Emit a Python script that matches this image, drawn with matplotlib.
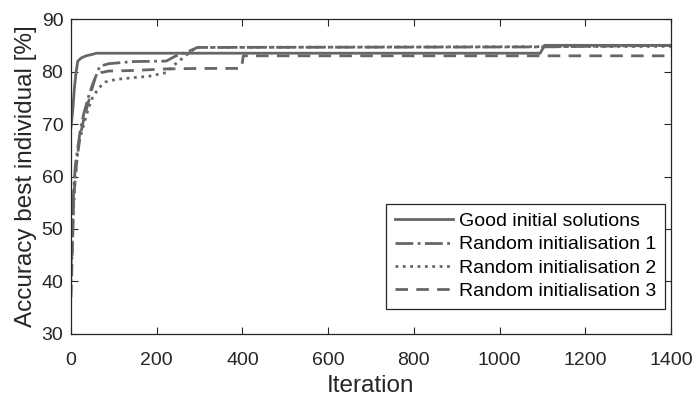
import matplotlib
matplotlib.use("Agg")
import matplotlib.pyplot as plt

# data
good_it = [0, 4, 8, 12, 16, 24, 35, 51, 59, 1095, 1105, 1400]
good_acc = [69.5, 72.5, 76.9, 80.0, 82.0, 82.6, 83.0, 83.3, 83.5, 83.5, 85.0, 85.0]

r1_it = [0, 3, 6, 10, 15, 22, 30, 40, 50, 60, 67, 88, 143, 222, 245, 276, 295, 1100, 1400]
r1_acc = [43, 48, 57, 62, 65, 69, 72, 75, 77.5, 79.5, 81.0, 81.5, 81.9, 82.0, 83.0, 83.9, 84.6, 84.7, 85.0]

r2_it = [0, 3, 6, 10, 15, 20, 30, 41, 50, 65, 80, 104, 140, 182, 222, 237, 261, 292, 1400]
r2_acc = [40, 46, 54, 60, 64, 67, 70, 73.1, 75, 76.9, 78.0, 78.5, 78.8, 79.1, 79.8, 81.0, 82.6, 84.6, 84.8]

r3_it = [0, 3, 6, 10, 15, 22, 30, 40, 50, 57, 70, 88, 143, 220, 300, 398, 402, 1400]
r3_acc = [37, 45, 55, 60, 64, 68, 71, 74, 77, 78.9, 79.8, 80.1, 80.2, 80.5, 80.6, 80.6, 83.0, 83.0]

labels = ["Good initial solutions", "Random initialisation 1",
          "Random initialisation 2", "Random initialisation 3"]

plt.rcParams["font.family"] = ["Liberation Sans", "DejaVu Sans"]

fig = plt.figure(figsize=(6.96, 3.98), dpi=100)
ax = fig.add_axes([0.102, 0.161, 0.862, 0.791])

c = "#666666"
lw = 2.0
ax.plot(good_it, good_acc, "-", color=c, lw=lw, label=labels[0])
ax.plot(r1_it, r1_acc, "-.", color=c, lw=lw, label=labels[1])
ax.plot(r2_it, r2_acc, ":", color=c, lw=lw, label=labels[2])
ax.plot(r3_it, r3_acc, "--", color=c, lw=lw, dashes=(4.5, 3), label=labels[3])

ax.set_xlim(0, 1400)
ax.set_ylim(30, 90)
ax.set_xticks(range(0, 1401, 200))
ax.set_yticks(range(30, 91, 10))
ax.tick_params(direction="in", top=True, right=True, labelsize=14, length=5,
               colors="#262626", labelcolor="#262626")
ax.tick_params(axis="x", pad=13)
ax.tick_params(axis="y", pad=5.5)
for s in ax.spines.values():
    s.set_color("#262626")
    s.set_linewidth(0.9)

ax.set_xlabel("Iteration", fontsize=17.5, color="#262626", labelpad=4)
ax.set_ylabel("Accuracy best individual [%]", fontsize=17.5, color="#262626", labelpad=3)

leg = ax.legend(loc="lower right", bbox_to_anchor=(0.99, 0.079), fontsize=14,
                handlelength=3.0, handletextpad=0.3, labelspacing=0.3,
                borderpad=0.45, borderaxespad=0, fancybox=False, framealpha=1)
leg.get_frame().set_edgecolor("#262626")
leg.get_frame().set_linewidth(0.9)

fig.savefig("out.png", dpi=100)
